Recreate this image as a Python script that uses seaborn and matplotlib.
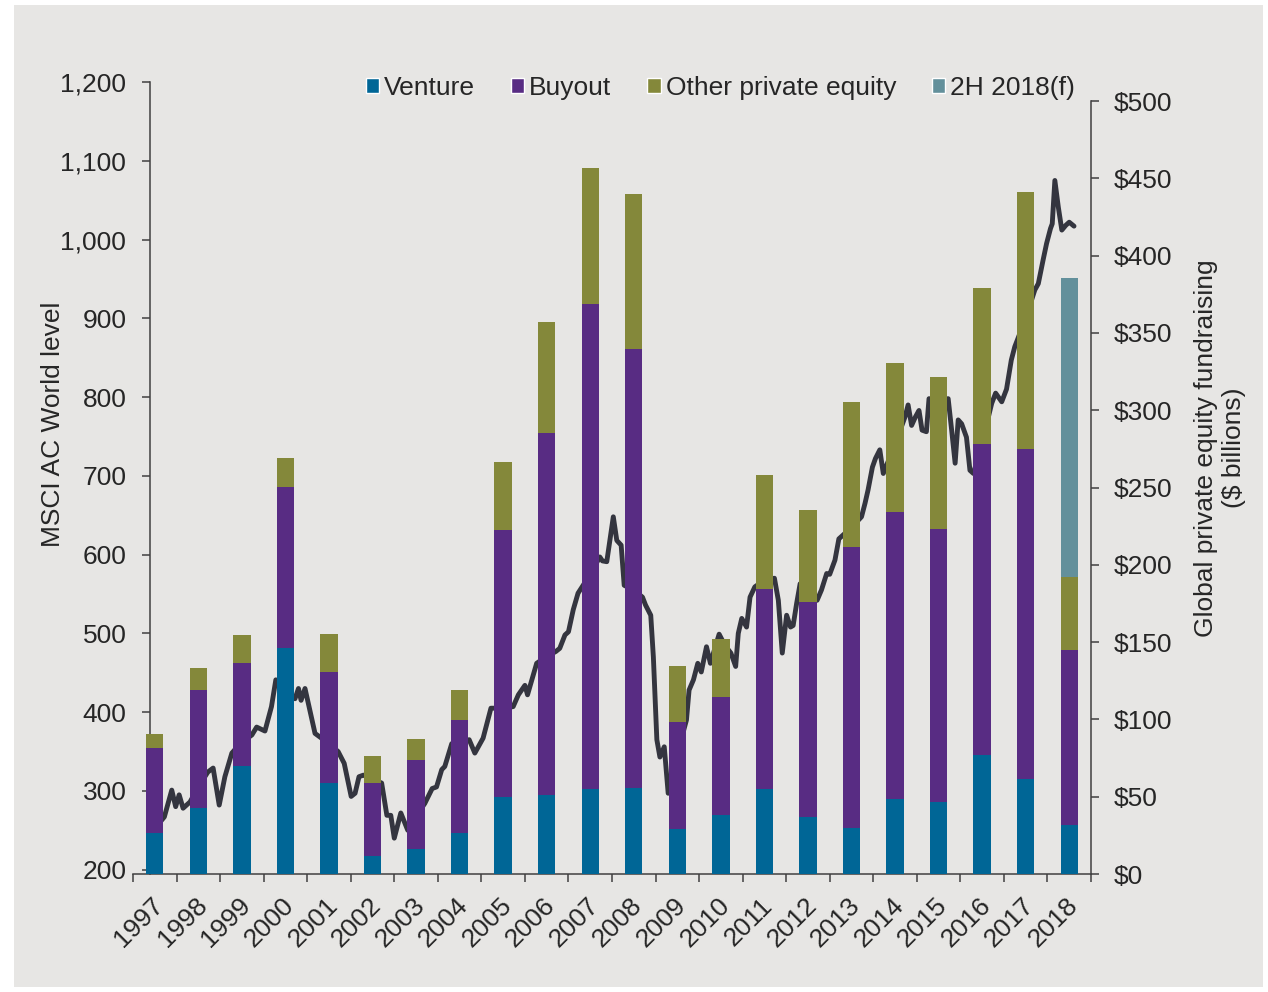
import numpy as np
import pandas as pd
import matplotlib
matplotlib.use('Agg')
import matplotlib.pyplot as plt
import seaborn as sns
from matplotlib.patches import Patch, Rectangle
from matplotlib.ticker import FuncFormatter

# fundraising by year ($ billions, right axis)
years = list(range(1997, 2019))
venture = [26.4, 42.7, 70.0, 145.9, 58.7, 11.7, 16.4, 26.4, 49.7, 51.4, 54.8,
           55.5, 28.9, 38.0, 54.8, 37.1, 30.0, 48.4, 46.8, 76.9, 61.5, 31.5]
buyout = [55.4, 76.0, 66.2, 104.7, 71.7, 47.0, 57.4, 73.3, 172.5, 233.8, 313.7,
          284.3, 69.5, 76.8, 129.8, 138.6, 181.3, 185.9, 176.6, 201.1, 213.3, 113.1]
other_pe = [8.9, 14.3, 18.6, 18.8, 25.0, 17.7, 13.4, 19.5, 44.6, 71.7, 88.3,
            100.0, 35.9, 37.4, 73.8, 59.6, 94.2, 96.5, 98.0, 101.1, 166.5, 47.8]
h2_2018 = [0] * 21 + [193.0]

# MSCI AC World level (left axis)
msci_date = [
    1997.39, 1997.72, 1997.89, 1997.98, 1998.06, 1998.15, 1998.31, 1998.50, 1998.72, 1998.84,
    1998.98, 1999.11, 1999.27, 1999.46, 1999.73, 1999.84, 2000.03, 2000.18, 2000.28, 2000.49,
    2000.72, 2000.80, 2000.86, 2000.95, 2001.06, 2001.18, 2001.45, 2001.71, 2001.85, 2002.01,
    2002.10, 2002.19, 2002.29, 2002.49, 2002.71, 2002.83, 2002.92, 2003.00, 2003.15, 2003.31,
    2003.50, 2003.70, 2003.87, 2003.97, 2004.09, 2004.16, 2004.32, 2004.51, 2004.72, 2004.85,
    2005.04, 2005.22, 2005.50, 2005.73, 2005.85, 2006.00, 2006.06, 2006.27, 2006.48, 2006.71,
    2006.80, 2006.92, 2007.00, 2007.11, 2007.22, 2007.50, 2007.72, 2007.78, 2007.88, 2008.03,
    2008.11, 2008.21, 2008.28, 2008.50, 2008.70, 2008.77, 2008.89, 2008.95, 2009.03, 2009.10,
    2009.20, 2009.29, 2009.49, 2009.71, 2009.77, 2009.87, 2009.97, 2010.05, 2010.17, 2010.26,
    2010.46, 2010.59, 2010.73, 2010.84, 2010.90, 2010.98, 2011.09, 2011.17, 2011.28, 2011.51,
    2011.73, 2011.82, 2011.91, 2012.01, 2012.10, 2012.16, 2012.24, 2012.32, 2012.52, 2012.71,
    2012.81, 2012.93, 2013.00, 2013.12, 2013.21, 2013.51, 2013.73, 2013.81, 2013.88, 2013.98,
    2014.05, 2014.15, 2014.23, 2014.50, 2014.73, 2014.80, 2014.88, 2014.97, 2015.05, 2015.12,
    2015.22, 2015.28, 2015.50, 2015.72, 2015.80, 2015.88, 2015.95, 2016.03, 2016.14, 2016.22,
    2016.30, 2016.49, 2016.72, 2016.81, 2016.95, 2017.06, 2017.17, 2017.25, 2017.50, 2017.71,
    2017.79, 2017.90, 2017.98, 2018.07, 2018.11, 2018.17, 2018.25, 2018.33, 2018.42, 2018.50,
    2018.61]
msci_level = [
    245, 267, 301, 280, 295, 278, 286, 305, 324, 329,
    282, 318, 348, 360, 371, 381, 376, 407, 441, 430,
    417, 430, 415, 430, 403, 373, 362, 350, 335, 293,
    297, 318, 320, 315, 310, 269, 269, 240, 272, 250,
    268, 284, 303, 305, 327, 331, 360, 362, 365, 348,
    367, 405, 405, 407, 422, 434, 422, 462, 470, 477,
    481, 498, 502, 530, 551, 575, 597, 592, 591, 648,
    618, 612, 561, 555, 546, 536, 523, 470, 365, 343,
    356, 297, 345, 390, 428, 441, 462, 451, 483, 462,
    499, 485, 475, 458, 500, 519, 508, 546, 559, 568,
    570, 542, 475, 523, 508, 510, 538, 563, 555, 542,
    555, 576, 575, 593, 620, 635, 648, 665, 682, 711,
    722, 733, 703, 740, 775, 790, 764, 775, 783, 758,
    756, 798, 795, 798, 758, 716, 771, 766, 749, 707,
    703, 740, 792, 805, 794, 810, 847, 864, 900, 936,
    944, 974, 995, 1014, 1020, 1075, 1041, 1012, 1018, 1022,
    1017]

BG = '#e7e6e4'
BLUE = '#006696'
PURPLE = '#582c83'
OLIVE = '#84883a'
TEAL = '#63909b'
LINE = '#34353f'
AXIS = '#404040'

df = pd.DataFrame({'year': years, 'venture': venture, 'buyout': buyout,
                   'other': other_pe, 'h2': h2_2018})
df['vb'] = df['venture'] + df['buyout']
df['vbo'] = df['vb'] + df['other']
df['all'] = np.where(df['h2'] > 0, df['vbo'] + df['h2'], 0)

line_df = pd.DataFrame({'pos': np.array(msci_date) - 0.5, 'level': msci_level})

sns.set_style('white')
plt.rcParams['font.family'] = ['Liberation Sans', 'DejaVu Sans']
plt.rcParams['font.size'] = 19

fig = plt.figure(figsize=(12.68, 9.92), dpi=100)
fig.patch.set_facecolor('white')
fig.patches.append(Rectangle((14 / 1268, 5 / 992), 1249 / 1268, 982 / 992,
                             transform=fig.transFigure, facecolor=BG,
                             edgecolor='none', zorder=-10))

ax = fig.add_axes([133 / 1268, 1 - 874 / 992, 958 / 1268, 792 / 992])
ax.set_facecolor(BG)
ax2 = ax.twinx()

# index line behind the bars
sns.lineplot(data=line_df, x='pos', y='level', ax=ax, color=LINE,
             linewidth=3.5, estimator=None)

# stacked bars, drawn as cumulative totals from the top down
for col, color in [('all', TEAL), ('vbo', OLIVE), ('vb', PURPLE), ('venture', BLUE)]:
    sns.barplot(data=df, x='year', y=col, ax=ax2, color=color, width=0.4,
                native_scale=True, saturation=1, errorbar=None, linewidth=0)

ax.set_xlim(1996.5, 2018.5)
ax.set_ylim(194.5, 1200)
ax2.set_ylim(0, 512.3)

# x axis: ticks at year boundaries, labels under bars
ax.set_xticks(np.array(years) + 0.11)
ax.set_xticklabels([str(y) for y in years], rotation=45, ha='right',
                   va='center', rotation_mode='anchor')
ax.set_xticks(np.arange(1996.5, 2019, 1.0), minor=True)
ax.tick_params(axis='x', which='major', length=0, pad=20)
ax.tick_params(axis='x', which='minor', length=5.8, width=1.1, color=AXIS,
               direction='out', bottom=True)

ax.set_yticks(range(200, 1201, 100))
ax.yaxis.set_major_formatter(FuncFormatter(lambda v, p: f'{v:,.0f}'))
ax.tick_params(axis='y', length=5.5, width=1.1, pad=11.5, color=AXIS,
               direction='out', left=True)

ax2.set_yticks(range(0, 501, 50))
ax2.yaxis.set_major_formatter(FuncFormatter(lambda v, p: f'${v:,.0f}'))
ax2.tick_params(axis='y', length=5.5, width=1.1, pad=11, color=AXIS,
                direction='out', right=True)

for s in ['top', 'right']:
    ax.spines[s].set_visible(False)
for s in ['top', 'left', 'bottom']:
    ax2.spines[s].set_visible(False)
ax.spines['left'].set_position(('data', 1996.89))
ax2.spines['right'].set_bounds(0, 500)
for sp in [ax.spines['left'], ax.spines['bottom'], ax2.spines['right']]:
    sp.set_color(AXIS)
    sp.set_linewidth(1.1)

ax.set_xlabel('')
ax.set_ylabel('')
ax2.set_xlabel('')
ax2.set_ylabel('')

fig.text(53 / 1268, 1 - 424 / 992, 'MSCI AC World level', rotation=90,
         ha='center', va='center', fontsize=19)
fig.text(1220 / 1268, 1 - 448 / 992, 'Global private equity fundraising\n($ billions)',
         rotation=90, ha='center', va='center', multialignment='center', fontsize=19)

handles = [Patch(facecolor=BLUE, label='Venture'),
           Patch(facecolor=PURPLE, label='Buyout'),
           Patch(facecolor=OLIVE, label='Other private equity'),
           Patch(facecolor=TEAL, label='2H 2018(f)')]
fig.legend(handles=handles, loc='center left', bbox_to_anchor=(366 / 1268, 1 - 88 / 992),
           ncol=4, frameon=False, handlelength=0.5, handleheight=0.5,
           handletextpad=0.19, columnspacing=1.36, borderpad=0, borderaxespad=0,
           fontsize=19)

fig.savefig('out.png', dpi=100, facecolor=fig.get_facecolor())
